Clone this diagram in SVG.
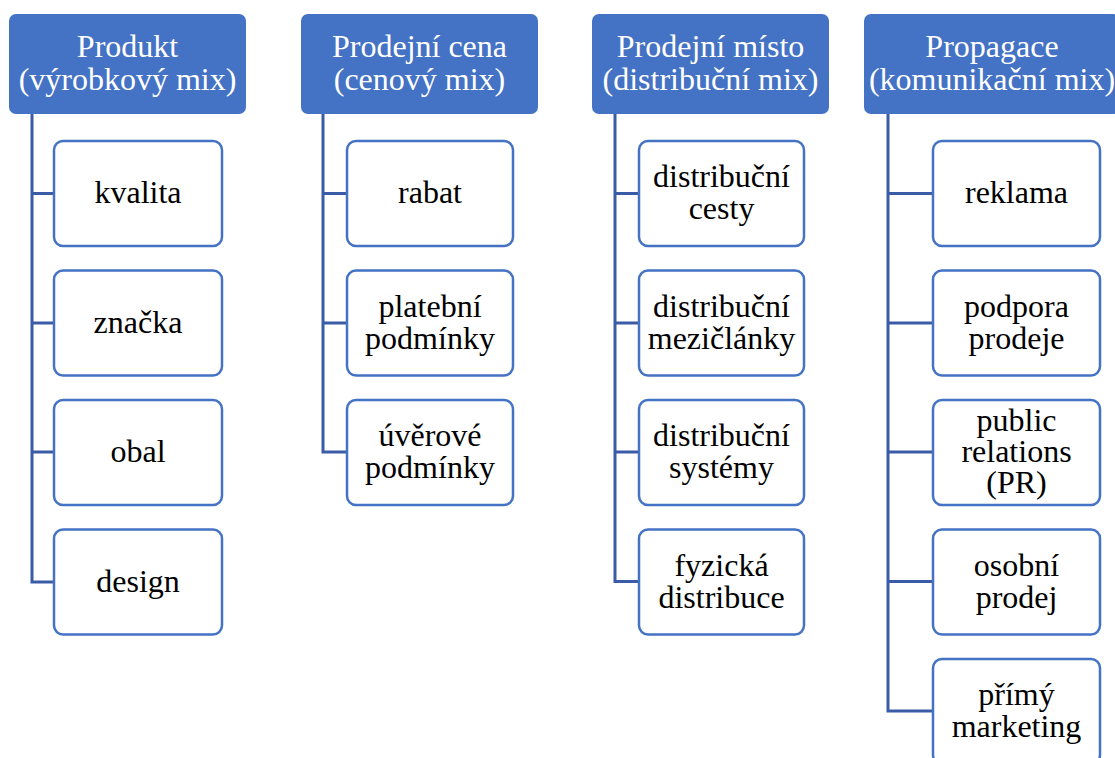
<svg xmlns="http://www.w3.org/2000/svg" width="1115" height="758" viewBox="0 0 1115 758" font-family="Liberation Serif, Tinos, DejaVu Serif, serif">
<style>
.hdr{fill:#4472C4;}
.hdr-t{fill:#FFFFFF;font-size:32px;text-anchor:middle;}
.box{fill:#FFFFFF;stroke:#4472C4;stroke-width:2.5;}
.box-t{fill:#000000;font-size:32px;text-anchor:middle;}
.conn{fill:none;stroke:#3A5BA5;stroke-width:3;}
</style>
<rect width="1115" height="758" fill="#FFFFFF"/>
<g id="connectors">
<path class="conn" d="M32 114 V582 H54 M32 193.5 H54 M32 323 H54 M32 452 H54"/>
<path class="conn" d="M323 114 V452 H347 M323 193.5 H347 M323 323 H347"/>
<path class="conn" d="M615 114 V581.5 H639 M615 193.5 H639 M615 323 H639 M615 452 H639"/>
<path class="conn" d="M888 114 V711 H933 M888 193.5 H933 M888 323 H933 M888 452 H933 M888 581.5 H933"/>
</g>
<g id="h1"><rect class="hdr" x="9" y="14" width="237" height="100" rx="7"/><text class="hdr-t" x="127.5" y="57">Produkt</text><text class="hdr-t" x="127.5" y="90">(výrobkový mix)</text></g>
<g id="h2"><rect class="hdr" x="301" y="14" width="237" height="100" rx="7"/><text class="hdr-t" x="419.5" y="57">Prodejní cena</text><text class="hdr-t" x="419.5" y="90">(cenový mix)</text></g>
<g id="h3"><rect class="hdr" x="592" y="14" width="237" height="100" rx="7"/><text class="hdr-t" x="710.5" y="57">Prodejní místo</text><text class="hdr-t" x="710.5" y="90">(distribuční mix)</text></g>
<g id="h4"><rect class="hdr" x="864" y="14" width="256" height="100" rx="7"/><text class="hdr-t" x="992" y="57">Propagace</text><text class="hdr-t" x="992" y="90">(komunikační mix)</text></g>

<g id="c1a"><rect class="box" x="54" y="141" width="168" height="105" rx="9"/><text class="box-t" x="138" y="203">kvalita</text></g>
<g id="c1b"><rect class="box" x="54" y="270.5" width="168" height="105" rx="9"/><text class="box-t" x="138" y="332.5">značka</text></g>
<g id="c1c"><rect class="box" x="54" y="400" width="168" height="105" rx="9"/><text class="box-t" x="138" y="462">obal</text></g>
<g id="c1d"><rect class="box" x="54" y="529.5" width="168" height="105" rx="9"/><text class="box-t" x="138" y="591.5">design</text></g>

<g id="c2a"><rect class="box" x="347" y="141" width="166" height="105" rx="9"/><text class="box-t" x="430" y="203">rabat</text></g>
<g id="c2b"><rect class="box" x="347" y="270.5" width="166" height="105" rx="9"/><text class="box-t" x="430" y="316.5">platební</text><text class="box-t" x="430" y="348.5">podmínky</text></g>
<g id="c2c"><rect class="box" x="347" y="400" width="166" height="105" rx="9"/><text class="box-t" x="430" y="446">úvěrové</text><text class="box-t" x="430" y="478">podmínky</text></g>

<g id="c3a"><rect class="box" x="639" y="141" width="165" height="105" rx="9"/><text class="box-t" x="721.5" y="187">distribuční</text><text class="box-t" x="721.5" y="219">cesty</text></g>
<g id="c3b"><rect class="box" x="639" y="270.5" width="165" height="105" rx="9"/><text class="box-t" x="721.5" y="316.5">distribuční</text><text class="box-t" x="721.5" y="348.5">mezičlánky</text></g>
<g id="c3c"><rect class="box" x="639" y="400" width="165" height="105" rx="9"/><text class="box-t" x="721.5" y="446">distribuční</text><text class="box-t" x="721.5" y="478">systémy</text></g>
<g id="c3d"><rect class="box" x="639" y="529.5" width="165" height="105" rx="9"/><text class="box-t" x="721.5" y="575.5">fyzická</text><text class="box-t" x="721.5" y="607.5">distribuce</text></g>

<g id="c4a"><rect class="box" x="933" y="141" width="167" height="105" rx="9"/><text class="box-t" x="1016.5" y="203">reklama</text></g>
<g id="c4b"><rect class="box" x="933" y="270.5" width="167" height="105" rx="9"/><text class="box-t" x="1016.5" y="316.5">podpora</text><text class="box-t" x="1016.5" y="348.5">prodeje</text></g>
<g id="c4c"><rect class="box" x="933" y="400" width="167" height="105" rx="9"/><text class="box-t" x="1016.5" y="431">public</text><text class="box-t" x="1016.5" y="462">relations</text><text class="box-t" x="1016.5" y="493">(PR)</text></g>
<g id="c4d"><rect class="box" x="933" y="529.5" width="167" height="105" rx="9"/><text class="box-t" x="1016.5" y="575.5">osobní</text><text class="box-t" x="1016.5" y="607.5">prodej</text></g>
<g id="c4e"><rect class="box" x="933" y="659" width="167" height="105" rx="9"/><text class="box-t" x="1016.5" y="705">přímý</text><text class="box-t" x="1016.5" y="737">marketing</text></g>
</svg>
